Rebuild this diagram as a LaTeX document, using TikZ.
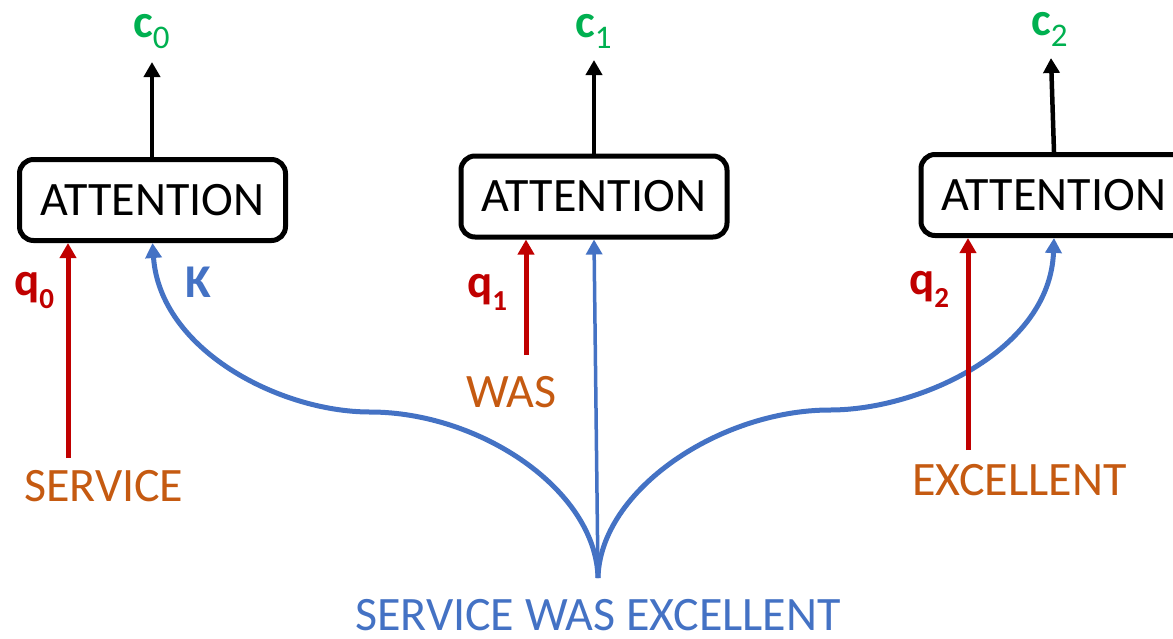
\documentclass[tikz,border=0pt]{standalone}
\usepackage{fontspec}
\setmainfont{Carlito}
\usetikzlibrary{arrows.meta}
\definecolor{ctxgreen}{HTML}{00B050}
\definecolor{qred}{HTML}{C00000}
\definecolor{wordorange}{HTML}{C55A11}
\definecolor{kblue}{HTML}{4472C4}
\newcommand{\diagfont}{\fontsize{48}{52}\selectfont}
\newcommand{\labelfont}{\fontsize{47}{50}\selectfont}
\begin{document}
\begin{tikzpicture}[x=1pt,y=-1pt,
  attn/.style={draw=black, line width=5pt, rounded corners=14pt,
    minimum width=266pt, minimum height=81pt, inner sep=0pt, font=\diagfont},
  tip/.style={-{Triangle[length=15pt,width=16pt]}},
  outarrow/.style={tip, draw=black, line width=4.5pt},
  qarrow/.style={tip, draw=qred, line width=5pt},
  karrow/.style={tip, draw=kblue, line width=5pt},
  word/.style={anchor=base west, text=wordorange, font=\diagfont, inner sep=0pt},
  lbl/.style={anchor=base west, font=\labelfont\bfseries, inner sep=0pt}
]
\useasboundingbox (0,0) rectangle (1173,638);

% attention blocks
\node[attn] (b1) at (152.5,200) {ATTENTION};
\node[attn] (b2) at (594,196.5) {ATTENTION};
\node[attn] (b3) at (1054,195) {ATTENTION};

% context outputs
\node[lbl, text=ctxgreen] (c0) at (133,37) {c\raisebox{-11pt}{\fontsize{33}{33}\selectfont\mdseries 0}};
\node[lbl, text=ctxgreen] (c1) at (575,37) {c\raisebox{-11pt}{\fontsize{33}{33}\selectfont\mdseries 1}};
\node[lbl, text=ctxgreen] (c2) at (1031,35) {c\raisebox{-11pt}{\fontsize{33}{33}\selectfont\mdseries 2}};
\coordinate (t0) at (152,62);
\coordinate (t1) at (594,60);
\coordinate (t2) at (1051,58);
\draw[outarrow] (t0 |- b1.north) -- (t0);
\draw[outarrow] (t1 |- b2.north) -- (t1);
\draw[outarrow] (b3.north) -- (t2);

% keys from the whole sentence
\node[anchor=base west, text=kblue, font=\diagfont, inner sep=0pt] (sent) at (355,630) {SERVICE WAS EXCELLENT};
\coordinate (root) at (598,578);
\coordinate (kl) at (370,412);
\coordinate (kr) at (830,410);
\draw[karrow] (root) .. controls (596,490) and (480,412) .. (kl)
  .. controls (280,412) and (160,350) .. (b1.south);
\draw[karrow] (root) .. controls (600,490) and (720,410) .. (kr)
  .. controls (920,410) and (1050,350) .. (b3.south);
\draw[tip, draw=kblue, line width=3.5pt] (root) -- (b2.south);
\node[lbl, text=kblue] (K) at (185,297) {K};

% queries
\node[word] (w0) at (24,501) {SERVICE};
\node[word] (w1) at (466,407) {WAS};
\node[word] (w2) at (912,495) {EXCELLENT};
\coordinate (s0) at (68,458);
\coordinate (s1) at (526,355);
\coordinate (s2) at (968,450);
\draw[qarrow] (s0) -- (s0 |- b1.south);
\draw[qarrow] (s1) -- (s1 |- b2.south);
\draw[qarrow] (s2) -- (s2 |- b3.south);
\node[lbl, text=qred] (q0) at (14,295) {q\raisebox{-13pt}{\fontsize{29}{29}\selectfont 0}};
\node[lbl, text=qred] (q1) at (467,297) {q\raisebox{-13pt}{\fontsize{29}{29}\selectfont 1}};
\node[lbl, text=qred] (q2) at (909,294) {q\raisebox{-13pt}{\fontsize{29}{29}\selectfont 2}};
\end{tikzpicture}
\end{document}
